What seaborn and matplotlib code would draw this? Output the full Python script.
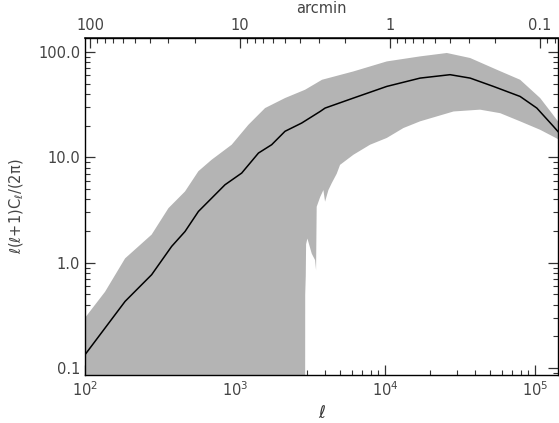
import matplotlib
matplotlib.use("Agg")
import matplotlib.pyplot as plt
import matplotlib.ticker as mticker
import numpy as np
import pandas as pd
import seaborn as sns

# mean spectrum (black line)
line_ell = [100, 185, 278, 378, 464, 570, 698, 857, 1107, 1432, 1754, 2153, 2780,
            3690, 3981, 6150, 10260, 17100, 27100, 36900, 52700, 79400, 102600,
            132400, 145000]
line_cl = [0.134, 0.43, 0.77, 1.43, 1.98, 3.07, 4.1, 5.5, 7.1, 11.0, 13.2, 17.7, 21.2,
           27.3, 29.4, 36.6, 47.2, 56.6, 61.0, 56.6, 47.2, 37.9, 29.4, 19.7, 17.0]

# upper edge of the scatter band
upper_ell = [100, 136, 185, 278, 360, 464, 570, 698, 950, 1227, 1585, 2153, 2930,
             3800, 6150, 10260, 17100, 25800, 36900, 55500, 79400, 108000, 145000]
upper_cl = [0.30, 0.53, 1.1, 1.85, 3.3, 4.75, 7.4, 9.5, 13.2, 20.4, 29.4, 36.6, 43.9,
            54.6, 65.5, 81.5, 91.0, 98.0, 87.8, 68.0, 54.6, 36.6, 21.2]

# lower edge of the scatter band (off the bottom below ell ~ 2900)
lower_ell = [100, 2930, 2935, 2960, 2975, 3035, 3245, 3415, 3467, 3500, 3690, 3880,
             3980, 4190, 4410, 4760, 5010, 6150, 7940, 10260, 13240, 17100, 22100,
             28600, 42950, 58500, 79400, 107900, 145000]
lower_cl = [0.01, 0.01, 0.5, 0.75, 1.5, 1.7, 1.22, 1.06, 0.85, 3.4, 4.2, 4.9,
            3.8, 4.9, 5.7, 7.0, 8.5, 10.6, 13.2, 15.3, 19.0, 22.0, 24.5,
            27.3, 28.4, 26.3, 22.0, 18.3, 14.7]

y_ticks = [0.1, 1.0, 10.0, 100.0]
arcmin_ticks = [100, 10, 1, 0.1]

sns.set_theme(style="ticks")
plt.rcParams["font.family"] = ["DejaVu Sans"]
plt.rcParams["mathtext.fontset"] = "dejavusans"


def ell_to_arcmin(x):
    x = np.asarray(x, dtype=float)
    with np.errstate(divide="ignore"):
        return 10800.0 / x


fig, ax = plt.subplots(figsize=(5.59, 4.23), dpi=100)
fig.subplots_adjust(left=85 / 559, right=558 / 559, bottom=1 - 375 / 423, top=1 - 38 / 423)

band_x = upper_ell + lower_ell[::-1]
band_y = upper_cl + lower_cl[::-1]
ax.fill(band_x, band_y, color="#b4b4b4", lw=0, zorder=1)

df = pd.DataFrame({"ell": line_ell, "cl": line_cl})
sns.lineplot(data=df, x="ell", y="cl", color="black", lw=1.1, ax=ax, zorder=3)

ax.set_xscale("log")
ax.set_yscale("log")
ax.set_xlim(100, 1.42e5)
ax.set_ylim(0.086, 136)

ax.set_yticks(y_ticks)
ax.yaxis.set_major_formatter(mticker.FuncFormatter(lambda v, p: f"{v:.1f}"))
ax.yaxis.set_minor_formatter(mticker.NullFormatter())

ax.tick_params(which="both", direction="in", top=False, right=True, labelsize=10.5,
               colors="#333333", labelcolor="#444444")
ax.tick_params(which="major", length=7, width=0.9)
ax.tick_params(which="minor", length=3.5, width=0.8)

ax.set_xlabel("ℓ", fontsize=12, style="italic", color="#333333", labelpad=4)
ax.set_ylabel(r"ℓ(ℓ+1)C$_{ℓ}$/(2π)", fontsize=10.5, color="#444444", labelpad=9)

secax = ax.secondary_xaxis("top", functions=(ell_to_arcmin, ell_to_arcmin))
secax.set_xticks(arcmin_ticks)
secax.xaxis.set_major_formatter(mticker.FuncFormatter(lambda v, p: f"{v:g}"))
secax.xaxis.set_minor_formatter(mticker.NullFormatter())
secax.tick_params(which="both", direction="in", labelsize=10.5, colors="#333333",
                  labelcolor="#444444")
secax.tick_params(which="major", length=7, width=0.9)
secax.tick_params(which="minor", length=3.5, width=0.8)
secax.set_xlabel("arcmin", fontsize=10.5, color="#444444", labelpad=4)

for side in ax.spines.values():
    side.set_linewidth(1.0)
    side.set_color("black")

fig.savefig("out.png", dpi=100)
